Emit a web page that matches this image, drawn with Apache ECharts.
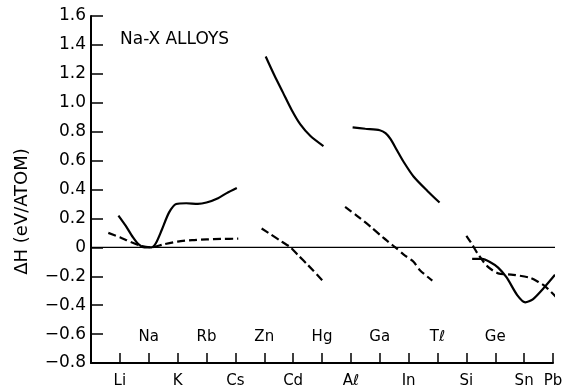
<!DOCTYPE html>
<html>
<head>
<meta charset="utf-8">
<script src="https://cdn.jsdelivr.net/npm/echarts/dist/echarts.min.js"></script>
<style>
    html, body { margin: 0; padding: 0; background: #fff; }
    #main { width: 569px; height: 385px; }
</style>
</head>
<body>
<div id="main"></div>
<script>
    // element positions along x: index 1..16
    var elements = ['', 'Li', 'Na', 'K', 'Rb', 'Cs', 'Zn', 'Cd', 'Hg', 'Aℓ', 'Ga', 'In', 'Tℓ', 'Si', 'Ge', 'Sn', 'Pb'];
    var bottomLabels = ['Li', 'K', 'Cs', 'Cd', 'Aℓ', 'In', 'Si', 'Sn', 'Pb'];
    var topLabels = ['Na', 'Rb', 'Zn', 'Hg', 'Ga', 'Tℓ', 'Ge'];

    // [x position, dH eV/atom]
    var liCsSolid = [[0.95, 0.22], [1.2, 0.15], [1.45, 0.07], [1.65, 0.02], [1.85, 0.0], [2.1, 0.0],
        [2.25, 0.03], [2.45, 0.12], [2.7, 0.24], [2.95, 0.30], [3.3, 0.305], [3.7, 0.30], [4.0, 0.31],
        [4.4, 0.34], [4.7, 0.375], [5.05, 0.41]];
    var liCsDashed = [[0.6, 0.10], [1.0, 0.07], [1.4, 0.035], [1.75, 0.01], [2.1, 0.0], [2.5, 0.02],
        [3.0, 0.04], [3.5, 0.05], [4.0, 0.055], [4.5, 0.058], [5.1, 0.06]];
    var znHgSolid = [[6.05, 1.32], [6.35, 1.19], [6.65, 1.07], [6.95, 0.95], [7.25, 0.85], [7.6, 0.77], [8.05, 0.70]];
    var znHgDashed = [[5.91, 0.13], [6.22, 0.09], [6.6, 0.04], [6.91, 0.0], [7.2, -0.06], [7.5, -0.12], [8.02, -0.23]];
    var alTlSolid = [[9.06, 0.83], [9.5, 0.82], [10.0, 0.81], [10.2, 0.79], [10.37, 0.75], [10.6, 0.67],
        [10.83, 0.59], [11.17, 0.49], [11.65, 0.39], [12.07, 0.31]];
    var alTlDashed = [[8.8, 0.28], [9.2, 0.22], [9.7, 0.14], [10.1, 0.07], [10.54, 0.0], [10.83, -0.05],
        [11.17, -0.10], [11.4, -0.16], [11.82, -0.23]];
    var siPbSolid = [[13.2, -0.08], [13.55, -0.08], [13.8, -0.10], [14.1, -0.14], [14.4, -0.21],
        [14.76, -0.33], [15.04, -0.38], [15.3, -0.36], [15.73, -0.27], [16.07, -0.19]];
    var siPbDashed = [[13.0, 0.08], [13.2, 0.02], [13.38, -0.04], [13.72, -0.13], [14.1, -0.18],
        [14.62, -0.19], [15.2, -0.21], [15.5, -0.24], [15.73, -0.27], [16.14, -0.35]];
    var zeroLine = [[0, 0], [16.07, 0]];

    var font = 'DejaVu Sans';
    var myChart = echarts.init(document.getElementById('main'));

    function curve(data, dashed) {
        return {
            type: 'line',
            data: data,
            smooth: 0.25,
            symbol: 'none',
            clip: false,
            silent: true,
            lineStyle: {
                color: '#000',
                width: 2.2,
                type: dashed ? [8, 4] : 'solid'
            }
        };
    }

    var option = {
        backgroundColor: '#fff',
        animation: false,
        title: {
            text: 'Na-X ALLOYS',
            left: 120,
            top: 31,
            padding: 0,
            textStyle: {
                fontFamily: font,
                fontWeight: 'normal',
                fontSize: 17,
                color: '#000'
            }
        },
        grid: {
            left: 91,
            right: 16,
            top: 16,
            bottom: 22,
            containLabel: false,
            outerBoundsMode: 'none'
        },
        xAxis: [{
            type: 'value',
            min: 0,
            max: 16,
            interval: 1,
            splitLine: { show: false },
            axisLine: { onZero: false, lineStyle: { color: '#000', width: 2 } },
            axisTick: { inside: true, length: 10, lineStyle: { color: '#000', width: 1.5 } },
            axisLabel: {
                margin: 11,
                fontFamily: font,
                fontSize: 15,
                color: '#000',
                formatter: function (v) {
                    var n = elements[v];
                    return bottomLabels.indexOf(n) >= 0 ? n : '';
                }
            }
        }, {
            type: 'value',
            min: 0,
            max: 16,
            interval: 1,
            position: 'bottom',
            splitLine: { show: false },
            axisLine: { show: false, onZero: false },
            axisTick: { show: false },
            axisLabel: {
                inside: true,
                margin: 18,
                fontFamily: font,
                fontSize: 15,
                color: '#000',
                formatter: function (v) {
                    var n = elements[v];
                    return topLabels.indexOf(n) >= 0 ? n : '';
                }
            }
        }],
        yAxis: {
            type: 'value',
            min: -0.8,
            max: 1.6,
            interval: 0.2,
            name: 'ΔH (eV/ATOM)',
            nameLocation: 'middle',
            nameGap: 60,
            nameTextStyle: {
                fontFamily: font,
                fontSize: 18,
                color: '#000',
                padding: [0, 44, 0, 0]
            },
            splitLine: { show: false },
            axisLine: { lineStyle: { color: '#000', width: 2 } },
            axisTick: { inside: true, length: 12, lineStyle: { color: '#000', width: 1.5 } },
            axisLabel: {
                margin: 5,
                fontFamily: font,
                fontSize: 17,
                color: '#000',
                formatter: function (v) {
                    if (Math.abs(v) < 1e-9) return '0';
                    return v.toFixed(1).replace('-', '−');
                }
            }
        },
        series: [
            {
                type: 'line',
                data: zeroLine,
                symbol: 'none',
                clip: false,
                silent: true,
                lineStyle: { color: '#000', width: 1.3 }
            },
            curve(liCsSolid, false),
            curve(liCsDashed, true),
            curve(znHgSolid, false),
            curve(znHgDashed, true),
            curve(alTlSolid, false),
            curve(alTlDashed, true),
            curve(siPbSolid, false),
            curve(siPbDashed, true)
        ]
    };
    myChart.setOption(option);
</script>
</body>
</html>
